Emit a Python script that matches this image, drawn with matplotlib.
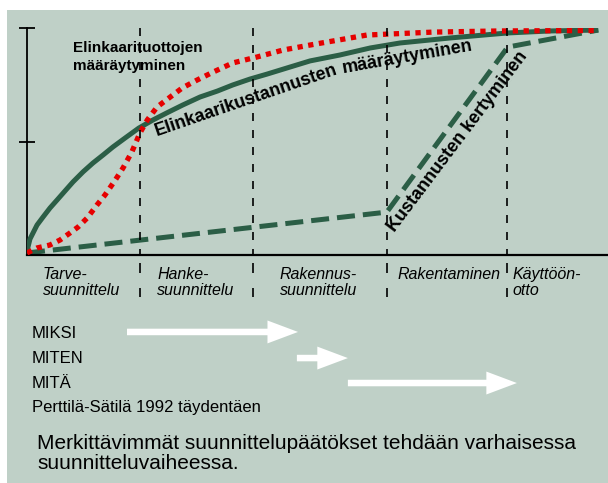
import matplotlib
matplotlib.use("Agg")
import matplotlib.pyplot as plt
from matplotlib.patches import Rectangle

# ---------------- data (x: % of life-cycle timeline, y: % of total) ----------------
phase_bounds = [19.7, 39.4, 62.8, 83.8]
phase_labels = ["Tarve-\nsuunnittelu", "Hanke-\nsuunnittelu", "Rakennus-\nsuunnittelu",
                "Rakentaminen", "Käyttöön-\notto"]

# Elinkaarikustannusten määräytyminen (solid green)
cost_det_x = [0, 0.17, 0.52, 1.05, 1.75, 2.79, 4.01, 5.24, 6.63, 8.03, 9.77, 11.5, 13.3,
              15.0, 17.1, 19.5, 22.0, 24.4, 27.2, 30.2, 33.2, 35.9, 38.9, 41.9, 45.9,
              49.4, 54.6, 59.9, 65.1, 73.8, 83.8, 91.3, 99.7]
cost_det_y = [0.66, 3.5, 7.05, 9.7, 13.2, 16.7, 20.7, 24.2, 28.2, 32.2, 36.6, 40.5, 44.1,
              47.6, 51.5, 55.9, 59.5, 62.6, 66.1, 69.6, 72.2, 74.9, 77.5, 79.7, 82.8,
              85.5, 88.1, 91.2, 93.4, 95.6, 97.8, 98.7, 99.1]

# Elinkaarituottojen määräytyminen (red dotted)
yield_det_x = [0, 1.75, 4.0, 5.76, 7.5, 8.9, 10.5, 12.2, 13.6, 15.4, 16.75, 18.3, 19.7,
               21.0, 22.7, 25.0, 27.1, 29.7, 32.5, 35.9, 40.1, 44.7, 49.4, 59.3, 70.9,
               82.5, 99.7]
yield_det_y = [0.9, 3.1, 4.4, 6.6, 9.7, 12.3, 16.3, 22.0, 26.4, 33.0, 38.3, 45.4, 53.7,
               59.5, 65.2, 69.6, 73.6, 77.1, 80.6, 84.6, 87.2, 90.3, 92.5, 96.9, 98.2,
               98.7, 98.9]

# Kustannusten kertyminen (dashed green)
cost_acc_x = [0, 62.8, 83.9, 99.7]
cost_acc_y = [0.9, 18.9, 91.6, 99.1]

# MIKSI / MITEN / MITÄ arrows (start, end on the timeline)
arrow_names = ["MIKSI", "MITEN", "MITÄ"]
arrow_start = [17.45, 47.1, 56.0]
arrow_end = [47.3, 56.0, 85.5]

# ---------------- style ----------------
W, H = 608, 483
BG = "#bfd0c7"
GREEN = "#2b5e46"
RED = "#e60000"
FONT = "Liberation Sans"
plt.rcParams["font.family"] = [FONT, "DejaVu Sans"]

fig = plt.figure(figsize=(W / 100, H / 100), dpi=100)
fig.patch.set_facecolor("white")
fig.patches.append(Rectangle((7 / W, 0), 1 - 7 / W, (H - 10) / H,
                             transform=fig.transFigure, facecolor=BG,
                             edgecolor="none", zorder=-10))

def fx(px):
    return px / W

def fy(py):
    return 1 - py / H

ax = fig.add_axes([fx(27), fy(255), 580 / W, 227 / H])
ax.set_xlim(0, 580 / 5.73)
ax.set_ylim(0, 100)
ax.patch.set_visible(False)
for s in ("top", "right"):
    ax.spines[s].set_visible(False)
ax.spines["bottom"].set_linewidth(1.6)
ax.spines["left"].set_linewidth(1.3)
ax.set_xticks([])
ax.set_yticks([50, 100])
ax.set_yticklabels([])
ax.tick_params(axis="y", direction="inout", length=11, width=1.3)

# curves
ax.plot(cost_acc_x, cost_acc_y, color=GREEN, lw=3.6, dashes=(3.6, 1.6),
        dash_capstyle="butt", solid_joinstyle="miter", zorder=2)
ax.plot(cost_det_x, cost_det_y, color=GREEN, lw=3.6, solid_capstyle="butt",
        solid_joinstyle="round", zorder=3)
ax.plot(yield_det_x, yield_det_y, color=RED, lw=3.8, dashes=(1.0, 1.05),
        dash_capstyle="butt", zorder=4)

# phase boundaries
for b in phase_bounds:
    ax.plot([b, b], [100, 0], color="black", lw=1.2, dashes=(4.8, 5.4), zorder=5)
    ax.plot([b, b], [-3.5, -18.5], color="black", lw=1.2, dashes=(6, 9),
            clip_on=False, zorder=5)

# curve labels
ax.text(8.0, 94.3, "Elinkaarituottojen\nmääräytyminen", fontsize=11, fontweight="bold",
        ha="left", va="top", linespacing=1.35, zorder=6)
ax.text(22.7, 52.4, "Elinkaarikustannusten", fontsize=13, fontweight="bold",
        rotation=19, rotation_mode="anchor", ha="left", va="baseline", zorder=6)
ax.text(55.1, 80.2, "määräytyminen", fontsize=13, fontweight="bold",
        rotation=10, rotation_mode="anchor", ha="left", va="baseline", zorder=6)
ax.text(64.2, 9.7, "Kustannusten kertyminen", fontsize=13, fontweight="bold",
        rotation=53, rotation_mode="anchor", ha="left", va="baseline", zorder=6)

# phase labels
label_x = [2.8, 22.7, 44.1, 64.6, 84.8]
for lx, lab in zip(label_x, phase_labels):
    ax.text(lx, -5.3, lab, fontsize=11.5, fontstyle="italic", ha="left", va="top",
            linespacing=1.08, clip_on=False)

# MIKSI / MITEN / MITÄ arrows
arrow_y = [-33.9, -45.4, -56.4]
for s, e, y in zip(arrow_start, arrow_end, arrow_y):
    ax.annotate("", xy=(e, y), xytext=(s, y), xycoords="data", annotation_clip=False,
                arrowprops=dict(arrowstyle="simple,head_length=2.2,head_width=1.65,tail_width=0.47",
                                mutation_scale=10, color="white", lw=0,
                                shrinkA=0, shrinkB=0))

baselines = [338, 363, 388, 412]
for name, by in zip(arrow_names + ["Perttilä-Sätilä 1992 täydentäen"], baselines):
    fig.text(fx(32), fy(by), name, fontsize=12, ha="left", va="baseline")

fig.text(fx(37), fy(434), "Merkittävimmät suunnittelupäätökset tehdään varhaisessa\nsuunnitteluvaiheessa.",
         fontsize=15, ha="left", va="top", linespacing=1.08)

fig.savefig("out.png", dpi=100, facecolor="white")
